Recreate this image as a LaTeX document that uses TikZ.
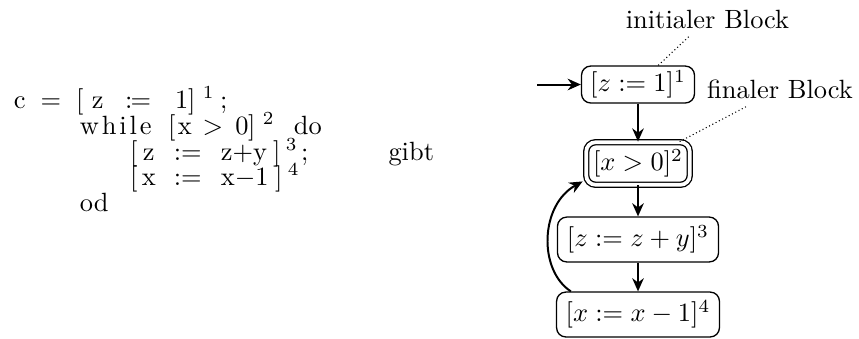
\documentclass[tikz,border=0pt]{standalone}
\usetikzlibrary{arrows.meta,calc}
\newlength\pxu
\setlength\pxu{0.3788pt}
\newcommand\atc[2]{\rlap{\hspace*{#1\pxu}\makebox[0pt]{#2}}}
\newcommand\atl[2]{\rlap{\hspace*{#1\pxu}#2}}
\begin{document}
\begin{tikzpicture}[x=0.3788pt,y=-0.3788pt,
  every node/.style={inner sep=0pt, font=\normalsize},
  codeline/.style={anchor=base west},
  lab/.style={inner sep=3pt, anchor=base},
  blockbox/.style={draw, rounded corners=3.5pt, line width=0.5pt},
  finalbox/.style={draw, double=white, double distance=1.4pt, rounded corners=3.5pt, line width=0.5pt},
  flow/.style={-{Stealth[length=5pt,width=4.4pt]}, line width=0.75pt},
  note/.style={densely dotted, line width=0.4pt}]
\useasboundingbox (0,0) rectangle (859,338);
% code
\node[codeline] (l1) at (0,108) {\atc{18}{c}\atc{49}{=}\atc{78}{[}\atc{96}{z}\atc{127}{:}\atc{139}{=}\atc{180}{1}\atc{190}{]}\atc{207}{${}^{1}$}\atc{222}{;}};
\node[codeline] (l2) at (0,134) {\atl{78}{w\kern1.1pt h\kern1.1pt i\kern1.1pt l\kern1.1pt e}\atc{170}{[}\atc{183}{x}\atc{211}{$>$}\atc{240}{0}\atc{250}{]}\atc{267}{${}^{2}$}\atl{292}{do}};
\node[codeline] (l3) at (0,160) {\atc{132}{[}\atc{147}{z}\atl{172}{:=}\atl{219}{z+y}\atc{275}{]}\atc{290}{${}^{3}$}\atc{303}{;}};
\node[codeline] (l4) at (0,185.5) {\atc{132}{[}\atc{147}{x}\atl{172}{:=}\atl{219}{x$-$1}\atc{277}{]}\atc{292}{${}^{4}$}};
\node[codeline] (l5) at (0,211) {\atl{78}{od}};
\node[codeline] (gibt) at (388,160) {gibt};
% graph
\node[blockbox, minimum width=42.8pt, minimum height=14pt] (n1) at (638,84.5) {$[z := 1]^1$};
\node[finalbox, minimum width=39.2pt, minimum height=16.1pt] (n2) at (638,163.5) {$[x > 0]^2$};
\node[blockbox, minimum width=61pt, minimum height=17pt] (n3) at (638,239.5) {$[z := z + y]^3$};
\node[blockbox, minimum width=61.7pt, minimum height=17pt] (n4) at (638,314.5) {$[x := x - 1]^4$};
\node[lab] (lab1) at (707.5,28) {initialer Block};
\node[lab] (lab2) at (780,98) {finaler Block};
\coordinate (in) at (537,84.5);
\draw[flow] (in) -- (n1);
\draw[flow] (n1) -- (n2);
\draw[flow] (n2) -- (n3);
\draw[flow] (n3) -- (n4);
\draw[flow] ($(n4.north west)+(15,0)$) .. controls (538,270) and (540,205) .. ($(n2.south west)+(-3,-4)$);
\draw[note] (lab1) -- (n1);
\draw[note] (lab2) -- (n2);
\end{tikzpicture}
\end{document}
